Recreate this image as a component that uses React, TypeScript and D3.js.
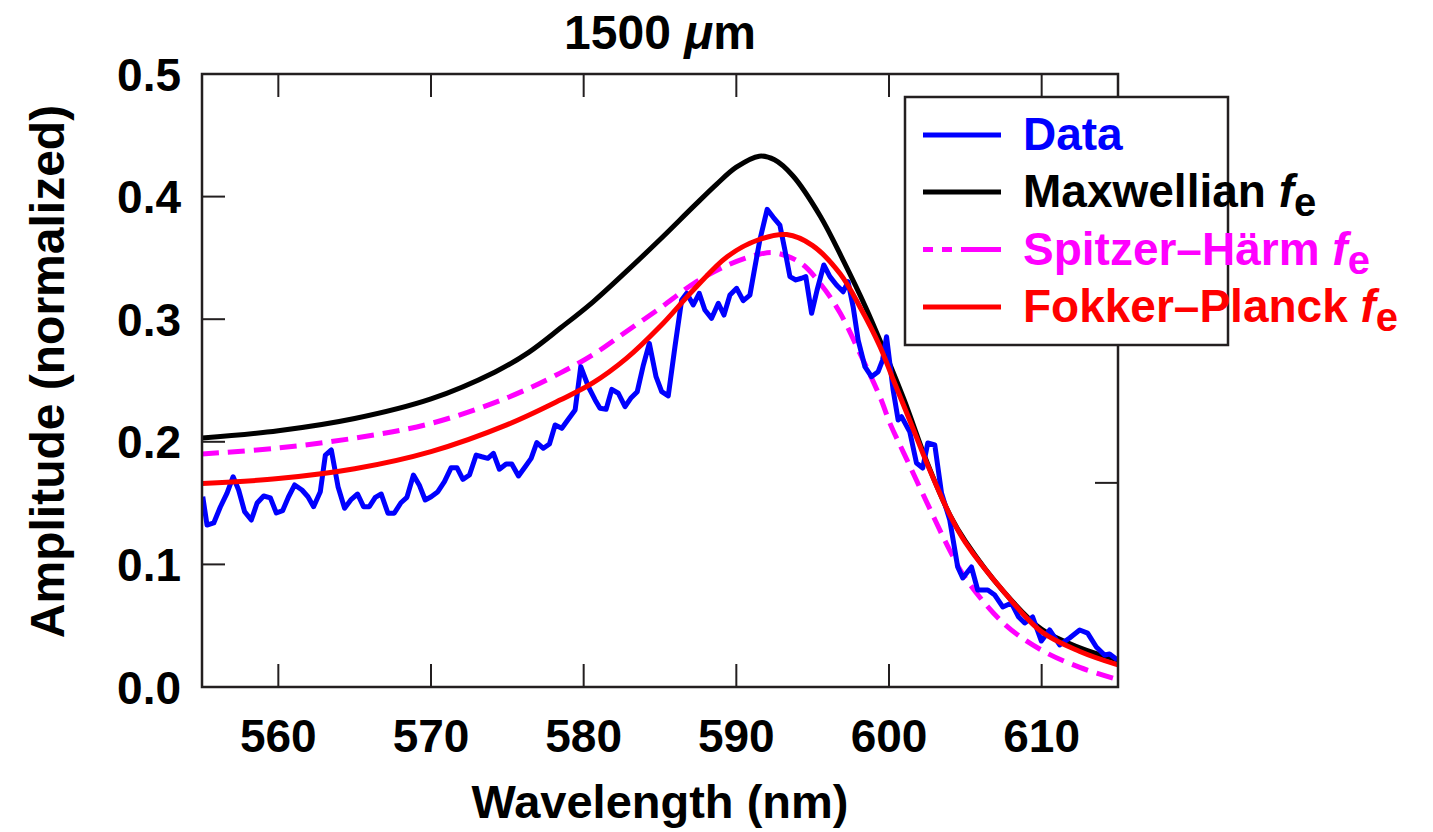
import React, { useEffect } from "react";
import * as d3 from "d3";

// ---------- Data ----------
const xTicks = [560, 570, 580, 590, 600, 610];
const yTicks = [0.0, 0.1, 0.2, 0.3, 0.4, 0.5];
const rightTickValue = 0.1665;

const dataWavelength = [
  555.05, 555.33, 555.77, 556.2, 556.64, 557.04, 557.4, 557.79, 558.23, 558.61,
  559.04, 559.48, 559.87, 560.28, 560.67, 561.07, 561.55, 561.94, 562.31, 562.75,
  563.08, 563.47, 563.91, 564.34, 564.78, 565.19, 565.58, 565.96, 566.35, 566.74,
  567.18, 567.59, 568.03, 568.42, 568.85, 569.23, 569.62, 570.01, 570.45, 570.88,
  571.32, 571.7, 572.09, 572.52, 572.96, 573.33, 573.72, 574.09, 574.48, 574.92,
  575.29, 575.73, 576.17, 576.56, 576.93, 577.36, 577.76, 578.13, 578.57, 578.96,
  579.44, 579.81, 580.31, 580.75, 581.07, 581.47, 581.84, 582.27, 582.71, 583.08,
  583.51, 583.91, 584.3, 584.74, 585.11, 585.54, 585.98, 586.42, 586.75, 587.18,
  587.57, 587.94, 588.38, 588.82, 589.19, 589.58, 590.02, 590.45, 590.89, 591.22,
  591.54, 592.02, 592.42, 592.85, 593.18, 593.51, 593.9, 594.27, 594.55, 594.93,
  595.29, 595.73, 596.13, 596.56, 597.0, 597.32, 597.65, 597.98, 598.42, 598.85,
  599.29, 599.58, 599.84, 600.27, 600.6, 600.82, 601.36, 601.8, 602.21, 602.54,
  603.0, 603.44, 603.98, 604.5, 604.83, 605.4, 605.81, 606.47, 606.93, 607.45,
  608.02, 608.49, 608.89, 609.41, 609.98, 610.52, 611.18, 611.83, 612.49, 613.01,
  613.58, 614.12, 614.45, 614.97,
];
const dataAmplitude = [
  0.1552, 0.1321, 0.1338, 0.1468, 0.1582, 0.1715, 0.1607, 0.143, 0.1362, 0.1501,
  0.1558, 0.1542, 0.1419, 0.1438, 0.1552, 0.1648, 0.1607, 0.1552, 0.1471, 0.1593,
  0.1892, 0.1933, 0.1634, 0.1458, 0.1531, 0.1574, 0.1471, 0.1471, 0.1547, 0.1574,
  0.1417, 0.1417, 0.1503, 0.1547, 0.1729, 0.1648, 0.1525, 0.1552, 0.1593, 0.1675,
  0.1789, 0.1789, 0.1694, 0.1729, 0.1892, 0.1878, 0.1865, 0.1906, 0.1776, 0.1819,
  0.1819, 0.1721, 0.1797, 0.1865, 0.1993, 0.1947, 0.1982, 0.2137, 0.211, 0.2178,
  0.2259, 0.2613, 0.2449, 0.2341, 0.2273, 0.2265, 0.2428, 0.2396, 0.2286, 0.2355,
  0.2409, 0.2626, 0.2803, 0.2531, 0.2409, 0.2374, 0.2776, 0.3157, 0.3211, 0.3116,
  0.3211, 0.3075, 0.3007, 0.313, 0.3034, 0.3197, 0.3252, 0.3151, 0.3197, 0.3428,
  0.3646, 0.3896, 0.3831, 0.3768, 0.3564, 0.3347, 0.332, 0.3334, 0.3347, 0.3048,
  0.3238, 0.3442, 0.3347, 0.3279, 0.3224, 0.3306, 0.3102, 0.283, 0.2613, 0.2531,
  0.2572, 0.2667, 0.2857, 0.2423, 0.2178, 0.2205, 0.2082, 0.1827, 0.1786, 0.199,
  0.1974, 0.1582, 0.1362, 0.0979, 0.0889, 0.0979, 0.0791, 0.0791, 0.075, 0.0653,
  0.0685, 0.0571, 0.0522, 0.0571, 0.0375, 0.0465, 0.0343, 0.04, 0.0465, 0.044,
  0.0326, 0.0261, 0.0269, 0.022,
];

const maxwellWavelength = [
  555, 560, 565, 570, 574.2, 576.4, 578.5, 580.6, 582.8, 585, 587.2, 588.7, 590,
  591.5, 592.5, 593.7, 595.5, 597, 598.5, 599.6, 601, 602.5, 604, 605, 607.5, 610,
  612.5, 615,
];
const maxwellAmplitude = [
  0.203, 0.209, 0.219, 0.235, 0.257, 0.273, 0.293, 0.314, 0.339, 0.365, 0.392, 0.41,
  0.424, 0.433, 0.43, 0.417, 0.384, 0.348, 0.309, 0.277, 0.234, 0.183, 0.14, 0.119,
  0.078, 0.047, 0.032, 0.022,
];

const spitzerWavelength = [
  555, 560, 565, 570, 575, 578.45, 580.6, 582.8, 585, 587.2, 589.4, 591.5, 592.6,
  594.2, 595.5, 596.8, 598.1, 599.4, 600.1, 601, 602.5, 604, 605, 607.5, 610, 612.5,
  615,
];
const spitzerAmplitude = [
  0.19, 0.195, 0.203, 0.215, 0.236, 0.256, 0.271, 0.29, 0.309, 0.329, 0.344, 0.353,
  0.354, 0.346, 0.329, 0.305, 0.272, 0.237, 0.214, 0.19, 0.15, 0.111, 0.089, 0.052,
  0.03, 0.016, 0.006,
];

const fokkerWavelength = [
  555, 560, 565, 570, 575, 578.45, 580.6, 582.8, 585, 587.2, 589.4, 591.5, 593.3,
  595, 596.8, 598.1, 599.4, 600.3, 601.6, 602.5, 604, 605, 607.5, 610, 612.5, 615,
];
const fokkerAmplitude = [
  0.166, 0.17, 0.178, 0.192, 0.214, 0.234, 0.248, 0.268, 0.294, 0.324, 0.351, 0.365,
  0.369, 0.36, 0.337, 0.31, 0.278, 0.25, 0.21, 0.182, 0.14, 0.118, 0.078, 0.045,
  0.029, 0.018,
];

const legendLabels = ["Data", "Maxwellian ", "Spitzer\u2013H\u00e4rm ", "Fokker\u2013Planck "];

// ---------- Layout ----------
const W = 1433;
const H = 832;
const left = 202;
const top = 74;
const right = 1118;
const bottom = 687;
const FONT = "'Liberation Sans', Arial, Helvetica, sans-serif";
const AX = "#231f20";

export default function App() {
  useEffect(() => {
    document.body.style.margin = "0";
  }, []);

  const x = d3.scaleLinear().domain([555, 615]).range([left, right]);
  const y = d3.scaleLinear().domain([0, 0.5]).range([bottom, top]);

  const mk = (wl: number[], amp: number[], curve: any) =>
    d3
      .line<number>()
      .x((_, i) => x(wl[i]))
      .y((d) => y(d))
      .curve(curve)(amp) as string;

  const smooth = d3.curveCatmullRom.alpha(0.5);
  const dataPath = mk(dataWavelength, dataAmplitude, d3.curveLinear);
  const maxPath = mk(maxwellWavelength, maxwellAmplitude, smooth);
  const spPath = mk(spitzerWavelength, spitzerAmplitude, smooth);
  const fpPath = mk(fokkerWavelength, fokkerAmplitude, smooth);

  const tickLen = 23;
  const legend = [
    { label: legendLabels[0], color: "#0000ff", dash: undefined, sub: false },
    { label: legendLabels[1], color: "#000000", dash: undefined, sub: true },
    { label: legendLabels[2], color: "#ff00ff", dash: "10,9,10,9,40", sub: true },
    { label: legendLabels[3], color: "#ff0000", dash: undefined, sub: true },
  ];
  const legendX = 905;
  const legendY = 97;
  const legendW = 323;
  const legendH = 248;
  const rowY = [135, 192, 249.5, 307];

  return (
    <svg
      width={W}
      height={H}
      style={{ position: "absolute", left: 0, top: 0, display: "block", background: "#fff" }}
      fontFamily={FONT}
      fontWeight="bold"
    >
      <rect x={0} y={0} width={W} height={H} fill="#fff" />
      <defs>
        <clipPath id="plotClip">
          <rect x={left} y={top} width={right - left} height={bottom - top} />
        </clipPath>
      </defs>

      {/* Title */}
      <text x={(left + right) / 2} y={49} textAnchor="middle" fontSize={48} fill="#000">
        1500 <tspan fontStyle="italic">{"\u03bc"}</tspan>m
      </text>

      {/* Curves */}
      <g clipPath="url(#plotClip)" fill="none" strokeLinejoin="round">
        <path d={maxPath} stroke="#000000" strokeWidth={5} />
        <path d={spPath} stroke="#ff00ff" strokeWidth={5} strokeDasharray="17,9" />
        <path d={dataPath} stroke="#0000ff" strokeWidth={5} />
        <path d={fpPath} stroke="#ff0000" strokeWidth={5} />
      </g>

      {/* Frame */}
      <rect
        x={left}
        y={top}
        width={right - left}
        height={bottom - top}
        fill="none"
        stroke={AX}
        strokeWidth={2.5}
      />
      {/* X ticks bottom & top */}
      {xTicks.map((t) => (
        <g key={"xt" + t}>
          <line x1={x(t)} x2={x(t)} y1={bottom} y2={bottom - tickLen} stroke={AX} strokeWidth={2} />
          <line x1={x(t)} x2={x(t)} y1={top} y2={top + tickLen} stroke={AX} strokeWidth={2} />
          <text x={x(t)} y={752} textAnchor="middle" fontSize={46} fill="#000">
            {t}
          </text>
        </g>
      ))}
      {/* Y ticks left */}
      {yTicks.map((t) => (
        <g key={"yt" + t}>
          {t > 0 && t < 0.5 && (
            <line x1={left} x2={left + tickLen} y1={y(t)} y2={y(t)} stroke={AX} strokeWidth={2} />
          )}
          <text x={181} y={y(t)} dy="0.36em" textAnchor="end" fontSize={46} fill="#000">
            {d3.format(".1f")(t)}
          </text>
        </g>
      ))}
      {/* Right tick */}
      <line
        x1={right}
        x2={right - tickLen}
        y1={y(rightTickValue)}
        y2={y(rightTickValue)}
        stroke={AX}
        strokeWidth={2}
      />

      {/* Axis labels */}
      <text x={(left + right) / 2} y={818} textAnchor="middle" fontSize={47} fill="#000">
        Wavelength (nm)
      </text>
      <text
        transform={`translate(64, ${(top + bottom) / 2 - 9}) rotate(-90)`}
        textAnchor="middle"
        fontSize={48}
        fill="#000"
      >
        Amplitude (normalized)
      </text>

      {/* Legend */}
      <rect
        x={legendX}
        y={legendY}
        width={legendW}
        height={legendH}
        fill="#fff"
        stroke={AX}
        strokeWidth={2.5}
      />
      {legend.map((e, i) => (
        <g key={"lg" + i}>
          <line
            x1={923}
            x2={1001}
            y1={rowY[i]}
            y2={rowY[i]}
            stroke={e.color}
            strokeWidth={5}
            strokeDasharray={e.dash}
          />
          <text x={1023} y={rowY[i] + 15} fontSize={46} fill={e.color}>
            {e.label}
            {e.sub && (
              <>
                <tspan fontStyle="italic">f</tspan>
                <tspan fontSize={40} dy={9}>
                  e
                </tspan>
              </>
            )}
          </text>
        </g>
      ))}
    </svg>
  );
}
